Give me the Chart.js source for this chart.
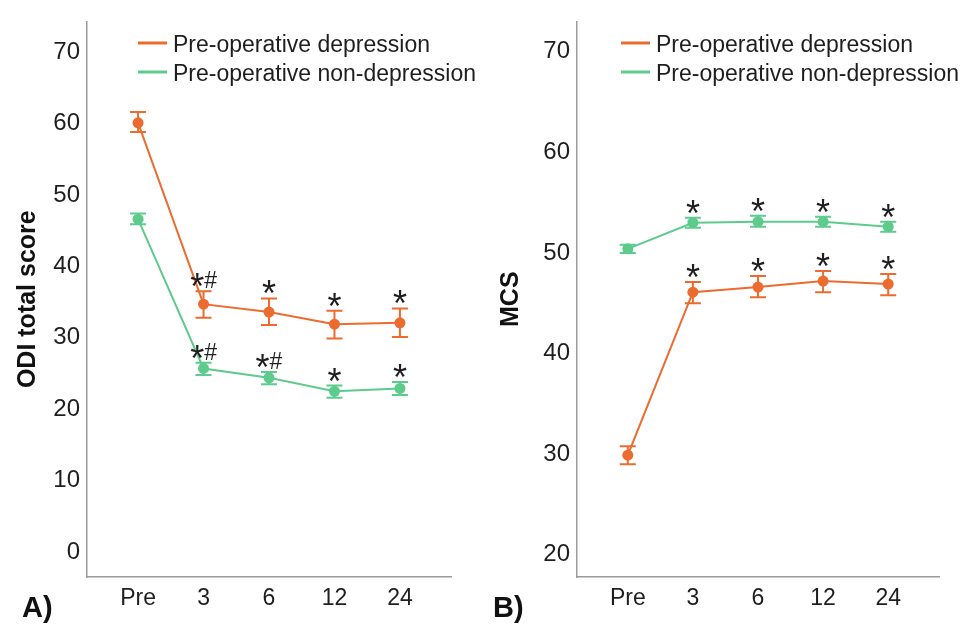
<!DOCTYPE html>
<html>
<head>
<meta charset="utf-8">
<script src="https://cdn.jsdelivr.net/npm/chart.js@4"></script>
<style>
  body { margin: 0; background: #fff; }
  canvas { position: absolute; top: 0; }
  #odiChart { left: 0; }
  #mcsChart { left: 483px; }
</style>
</head>
<body>
<canvas id="odiChart" width="483" height="624"></canvas>
<canvas id="mcsChart" width="484" height="624"></canvas>
<script>
// Data
const timeLabels = ['Pre', '3', '6', '12', '24'];
const seriesNames = ['Pre-operative depression', 'Pre-operative non-depression'];

// A) ODI total score
const odiDep   = [60.1, 34.7, 33.6, 31.9, 32.1];
const odiDepLo = [58.8, 32.8, 31.8, 29.9, 30.1];
const odiDepHi = [61.6, 36.5, 35.5, 33.8, 34.1];
const odiNon   = [46.6, 25.7, 24.4, 22.5, 22.9];
const odiNonLo = [45.9, 24.8, 23.5, 21.6, 22.0];
const odiNonHi = [47.4, 26.5, 25.2, 23.3, 23.8];
const odiDepMarks = ['', '*#', '*', '*', '*'];
const odiNonMarks = ['', '*#', '*#', '*', '*'];
const odiTicks = [0, 10, 20, 30, 40, 50, 60, 70];

// B) MCS
const mcsDep   = [29.9, 46.1, 46.6, 47.2, 46.9];
const mcsDepLo = [29.0, 45.0, 45.6, 46.1, 45.8];
const mcsDepHi = [30.8, 47.1, 47.7, 48.2, 47.9];
const mcsNon   = [50.4, 53.0, 53.1, 53.1, 52.6];
const mcsNonLo = [50.0, 52.5, 52.6, 52.6, 52.1];
const mcsNonHi = [50.8, 53.5, 53.7, 53.6, 53.1];
const mcsDepMarks = ['', '*', '*', '*', '*'];
const mcsNonMarks = ['', '*', '*', '*', '*'];
const mcsTicks = [20, 30, 40, 50, 60, 70];

const ORANGE = '#EC6B2F';
const GREEN = '#5DCB8C';
const TEXT = '#1e1e1e';
const FONT = '"Liberation Sans", Arial, sans-serif';

// error bars, significance marks, legend and panel letter
const extras = {
  id: 'extras',
  afterDatasetsDraw(chart, args, opts) {
    const ctx = chart.ctx;
    const xs = chart.scales.x, ys = chart.scales.y;
    chart.data.datasets.forEach(ds => {
      ctx.save();
      ctx.strokeStyle = ds.borderColor;
      ctx.lineWidth = 2;
      ds.data.forEach((p, i) => {
        const x = xs.getPixelForValue(p.x);
        const yLo = ys.getPixelForValue(ds.lo[i]);
        const yHi = ys.getPixelForValue(ds.hi[i]);
        ctx.beginPath();
        ctx.moveTo(x, yLo); ctx.lineTo(x, yHi);
        ctx.moveTo(x - 8, yLo); ctx.lineTo(x + 8, yLo);
        ctx.moveTo(x - 8, yHi); ctx.lineTo(x + 8, yHi);
        ctx.stroke();

        // significance marks: star and hash drawn at their own sizes
        const mark = ds.marks[i];
        if (!mark) return;
        ctx.fillStyle = TEXT;
        ctx.textBaseline = 'alphabetic';
        ctx.textAlign = 'left';
        const parts = mark.split('').map(ch => {
          ctx.font = ch === '*' ? '36px ' + FONT : '23px ' + FONT;
          return { ch, w: ctx.measureText(ch).width };
        });
        const total = parts.reduce((s, q) => s + q.w, 0);
        let cx = x - total / 2;
        parts.forEach(q => {
          if (q.ch === '*') {
            ctx.font = '36px ' + FONT;
            ctx.fillText(q.ch, cx, yHi + 8);
          } else {
            ctx.font = '23px ' + FONT;
            ctx.fillText(q.ch, cx, yHi - 3);
          }
          cx += q.w;
        });
      });
      ctx.restore();
    });
  },
  afterDraw(chart, args, opts) {
    const ctx = chart.ctx;
    ctx.save();
    // legend
    chart.data.datasets.forEach((ds, i) => {
      const y = opts.legendY + i * opts.legendGap;
      ctx.strokeStyle = ds.borderColor;
      ctx.lineWidth = 3;
      ctx.beginPath();
      ctx.moveTo(opts.legendX, y - 1);
      ctx.lineTo(opts.legendX + 29, y - 1);
      ctx.stroke();
      ctx.fillStyle = TEXT;
      ctx.font = '23px ' + FONT;
      ctx.textBaseline = 'middle';
      ctx.textAlign = 'left';
      ctx.fillText(ds.label, opts.legendX + 35, y + 2);
    });
    // panel letter
    ctx.font = 'bold 29px ' + FONT;
    ctx.fillStyle = '#111';
    ctx.textBaseline = 'middle';
    ctx.fillText(opts.panel, opts.panelX, opts.panelY);
    ctx.restore();
  }
};

function points(vals) {
  return vals.map((v, i) => ({ x: i, y: v }));
}

function makePanel(id, p) {
  const ctx = document.getElementById(id).getContext('2d');
  return new Chart(ctx, {
    type: 'line',
    data: {
      datasets: [
        {
          label: seriesNames[0], data: points(p.dep), lo: p.depLo, hi: p.depHi, marks: p.depMarks,
          borderColor: ORANGE, backgroundColor: ORANGE, borderWidth: 2,
          pointRadius: 5.5, pointBorderWidth: 0, tension: 0
        },
        {
          label: seriesNames[1], data: points(p.non), lo: p.nonLo, hi: p.nonHi, marks: p.nonMarks,
          borderColor: GREEN, backgroundColor: GREEN, borderWidth: 2,
          pointRadius: 5.5, pointBorderWidth: 0, tension: 0
        }
      ]
    },
    options: {
      responsive: false,
      animation: false,
      devicePixelRatio: 1,
      clip: false,
      layout: { padding: { left: 0, top: p.top, right: p.right, bottom: 0 } },
      plugins: {
        legend: { display: false },
        tooltip: { enabled: false },
        extras: {
          legendX: 138, legendY: 44, legendGap: 29,
          panel: p.panel, panelX: p.panelX, panelY: 609
        }
      },
      scales: {
        x: {
          type: 'linear',
          min: -0.78, max: 4.78,
          grid: { display: false, drawTicks: false },
          border: { display: true, color: '#9a9a9a', width: 1.5 },
          afterFit: s => { s.height = 47; },
          afterBuildTicks: s => { s.ticks = timeLabels.map((t, i) => ({ value: i })); },
          ticks: {
            padding: 8,
            color: TEXT,
            font: { family: FONT, size: 23 },
            callback: v => timeLabels[v]
          }
        },
        y: {
          min: p.yMin, max: p.yMax,
          grid: { display: false, drawTicks: false },
          border: { display: true, color: '#9a9a9a', width: 1.5 },
          afterFit: s => { s.width = p.axisX; },
          afterBuildTicks: s => { s.ticks = p.ticks.map(v => ({ value: v })); },
          ticks: {
            padding: 7,
            color: TEXT,
            font: { family: FONT, size: 24 }
          },
          title: {
            display: true,
            text: p.title,
            color: '#111',
            padding: { top: 13, bottom: 0 },
            font: { family: FONT, size: 25, weight: 'bold' }
          }
        }
      }
    },
    plugins: [extras]
  });
}

makePanel('odiChart', {
  dep: odiDep, depLo: odiDepLo, depHi: odiDepHi, depMarks: odiDepMarks,
  non: odiNon, nonLo: odiNonLo, nonHi: odiNonHi, nonMarks: odiNonMarks,
  ticks: odiTicks, yMin: -3.5, yMax: 74.3,
  title: 'ODI total score', panel: 'A)', panelX: 22,
  axisX: 87, top: 21, right: 32
});

makePanel('mcsChart', {
  dep: mcsDep, depLo: mcsDepLo, depHi: mcsDepHi, depMarks: mcsDepMarks,
  non: mcsNon, nonLo: mcsNonLo, nonHi: mcsNonHi, nonMarks: mcsNonMarks,
  ticks: mcsTicks, yMin: 17.8, yMax: 73.0,
  title: 'MCS', panel: 'B)', panelX: 10,
  axisX: 94, top: 14, right: 28
});
</script>
</body>
</html>
